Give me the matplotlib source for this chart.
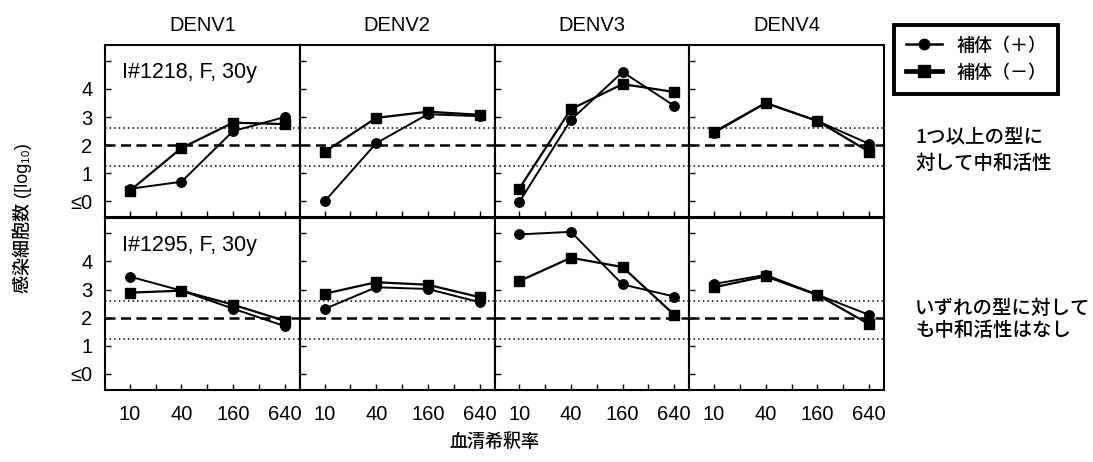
import matplotlib
matplotlib.use("Agg")
import matplotlib.pyplot as plt
from matplotlib.lines import Line2D

# ---------------- data ----------------
dilutions = ["10", "40", "160", "640"]
serotypes = ["DENV1", "DENV2", "DENV3", "DENV4"]
patients = ["I#1218, F, 30y", "I#1295, F, 30y"]
ytick_labels = ["≤0", "1", "2", "3", "4", ""]

# I#1218, complement (+) and (-), one list per serotype
plus_1218 = [[0.45, 0.70, 2.50, 3.00],
             [0.00, 2.07, 3.10, 3.03],
             [-0.02, 2.90, 4.60, 3.40],
             [2.44, 3.50, 2.86, 2.05]]
minus_1218 = [[0.38, 1.90, 2.80, 2.75],
              [1.76, 2.97, 3.19, 3.08],
              [0.46, 3.28, 4.17, 3.89],
              [2.47, 3.50, 2.86, 1.77]]
# I#1295
plus_1295 = [[3.46, 2.96, 2.32, 1.70],
             [2.31, 3.08, 3.02, 2.55],
             [4.96, 5.05, 3.18, 2.75],
             [3.20, 3.52, 2.82, 2.10]]
minus_1295 = [[2.89, 2.96, 2.46, 1.89],
              [2.85, 3.26, 3.17, 2.73],
              [3.30, 4.13, 3.80, 2.10],
              [3.08, 3.47, 2.81, 1.77]]

upper_cut = 2.6
mean_line = 2.0
lower_cut = 1.25

legend_labels = ["補体（＋）", "補体（－）"]
right_notes = [["1つ以上の型に", "対して中和活性"],
               ["いずれの型に対して", "も中和活性はなし"]]

# ---------------- figure ----------------
plt.rcParams["font.family"] = ["Liberation Sans", "Noto Sans CJK JP", "DejaVu Sans"]
CJK = ["Noto Sans CJK JP", "DejaVu Sans"]

W, H = 1093, 462
fig, axes = plt.subplots(2, 4, figsize=(W / 100, H / 100), dpi=100,
                         sharex=True, sharey=True)
fig.subplots_adjust(left=105 / W, right=884 / W, top=1 - 45 / H,
                    bottom=1 - 390 / H, wspace=0, hspace=0)

rows = [(plus_1218, minus_1218), (plus_1295, minus_1295)]
xpos = list(range(len(dilutions)))

for r, (plus, minus) in enumerate(rows):
    for c in range(4):
        ax = axes[r][c]
        ax.axhline(upper_cut, ls=(0, (1, 2)), lw=1.1, color="black", zorder=1)
        ax.axhline(mean_line, ls=(0, (4, 2.2)), lw=1.8, color="black", zorder=1)
        ax.axhline(lower_cut, ls=(0, (1, 2)), lw=1.1, color="black", zorder=1)
        ax.plot(xpos, minus[c], marker="s", ms=7.5, lw=1.6, color="black", zorder=3)
        ax.plot(xpos, plus[c], marker="o", ms=6.8, lw=1.4, color="black", zorder=3)
        ax.set_xlim(-0.48, 3.29)
        ax.set_ylim(-0.57, 5.56)
        ax.set_xticks(xpos)
        ax.set_xticks([0.5, 1.5, 2.5], minor=True)
        ax.set_yticks(range(6))
        ax.tick_params(which="both", direction="in", length=4, width=1)
        ax.tick_params(axis="x", pad=11, labelsize=14.5)
        ax.tick_params(axis="y", pad=9, labelsize=14.5)
        for s in ax.spines.values():
            s.set_linewidth(1.5)
        if r == 0:
            ax.set_title(serotypes[c], fontsize=14.5, pad=10)
    axes[r][0].text(0.087, 0.84, patients[r], transform=axes[r][0].transAxes,
                    va="center", ha="left", fontsize=15.5)

axes[1][0].set_xticklabels(dilutions)
axes[0][0].set_yticklabels(ytick_labels)

# y label and x label
fig.text(22 / W, 1 - 218 / H, "感染細胞数 ([log₁₀)", rotation=90,
         ha="center", va="center", fontsize=13, fontweight="medium")
fig.text(494 / W, 1 - 442 / H, "血清希釈率", ha="center", va="center",
         fontsize=13, fontweight="medium", family=CJK)

# legend
handles = [Line2D([], [], color="black", marker="o", ms=7.5, lw=1.8),
           Line2D([], [], color="black", marker="s", ms=8, lw=3.4)]
leg = fig.legend(handles, legend_labels, loc="upper left",
                 bbox_to_anchor=(894 / W, 1 - 25 / H), borderaxespad=0,
                 frameon=True, fancybox=False, edgecolor="black", framealpha=1,
                 handlelength=2.0, handletextpad=0.8,
                 borderpad=0.65, labelspacing=0.5,
                 prop={"size": 13, "weight": "medium", "family": CJK})
leg.get_frame().set_linewidth(2.8)

# right-side notes
note_kw = dict(va="center", ha="left", fontsize=14, fontweight="medium", family=CJK)
fig.text(915 / W, 1 - 137 / H, right_notes[0][0], **note_kw)
fig.text(915 / W, 1 - 163 / H, right_notes[0][1], **note_kw)
fig.text(915 / W, 1 - 308 / H, right_notes[1][0], **note_kw)
fig.text(915 / W, 1 - 331 / H, right_notes[1][1], **note_kw)

fig.savefig("out.png", dpi=100)
